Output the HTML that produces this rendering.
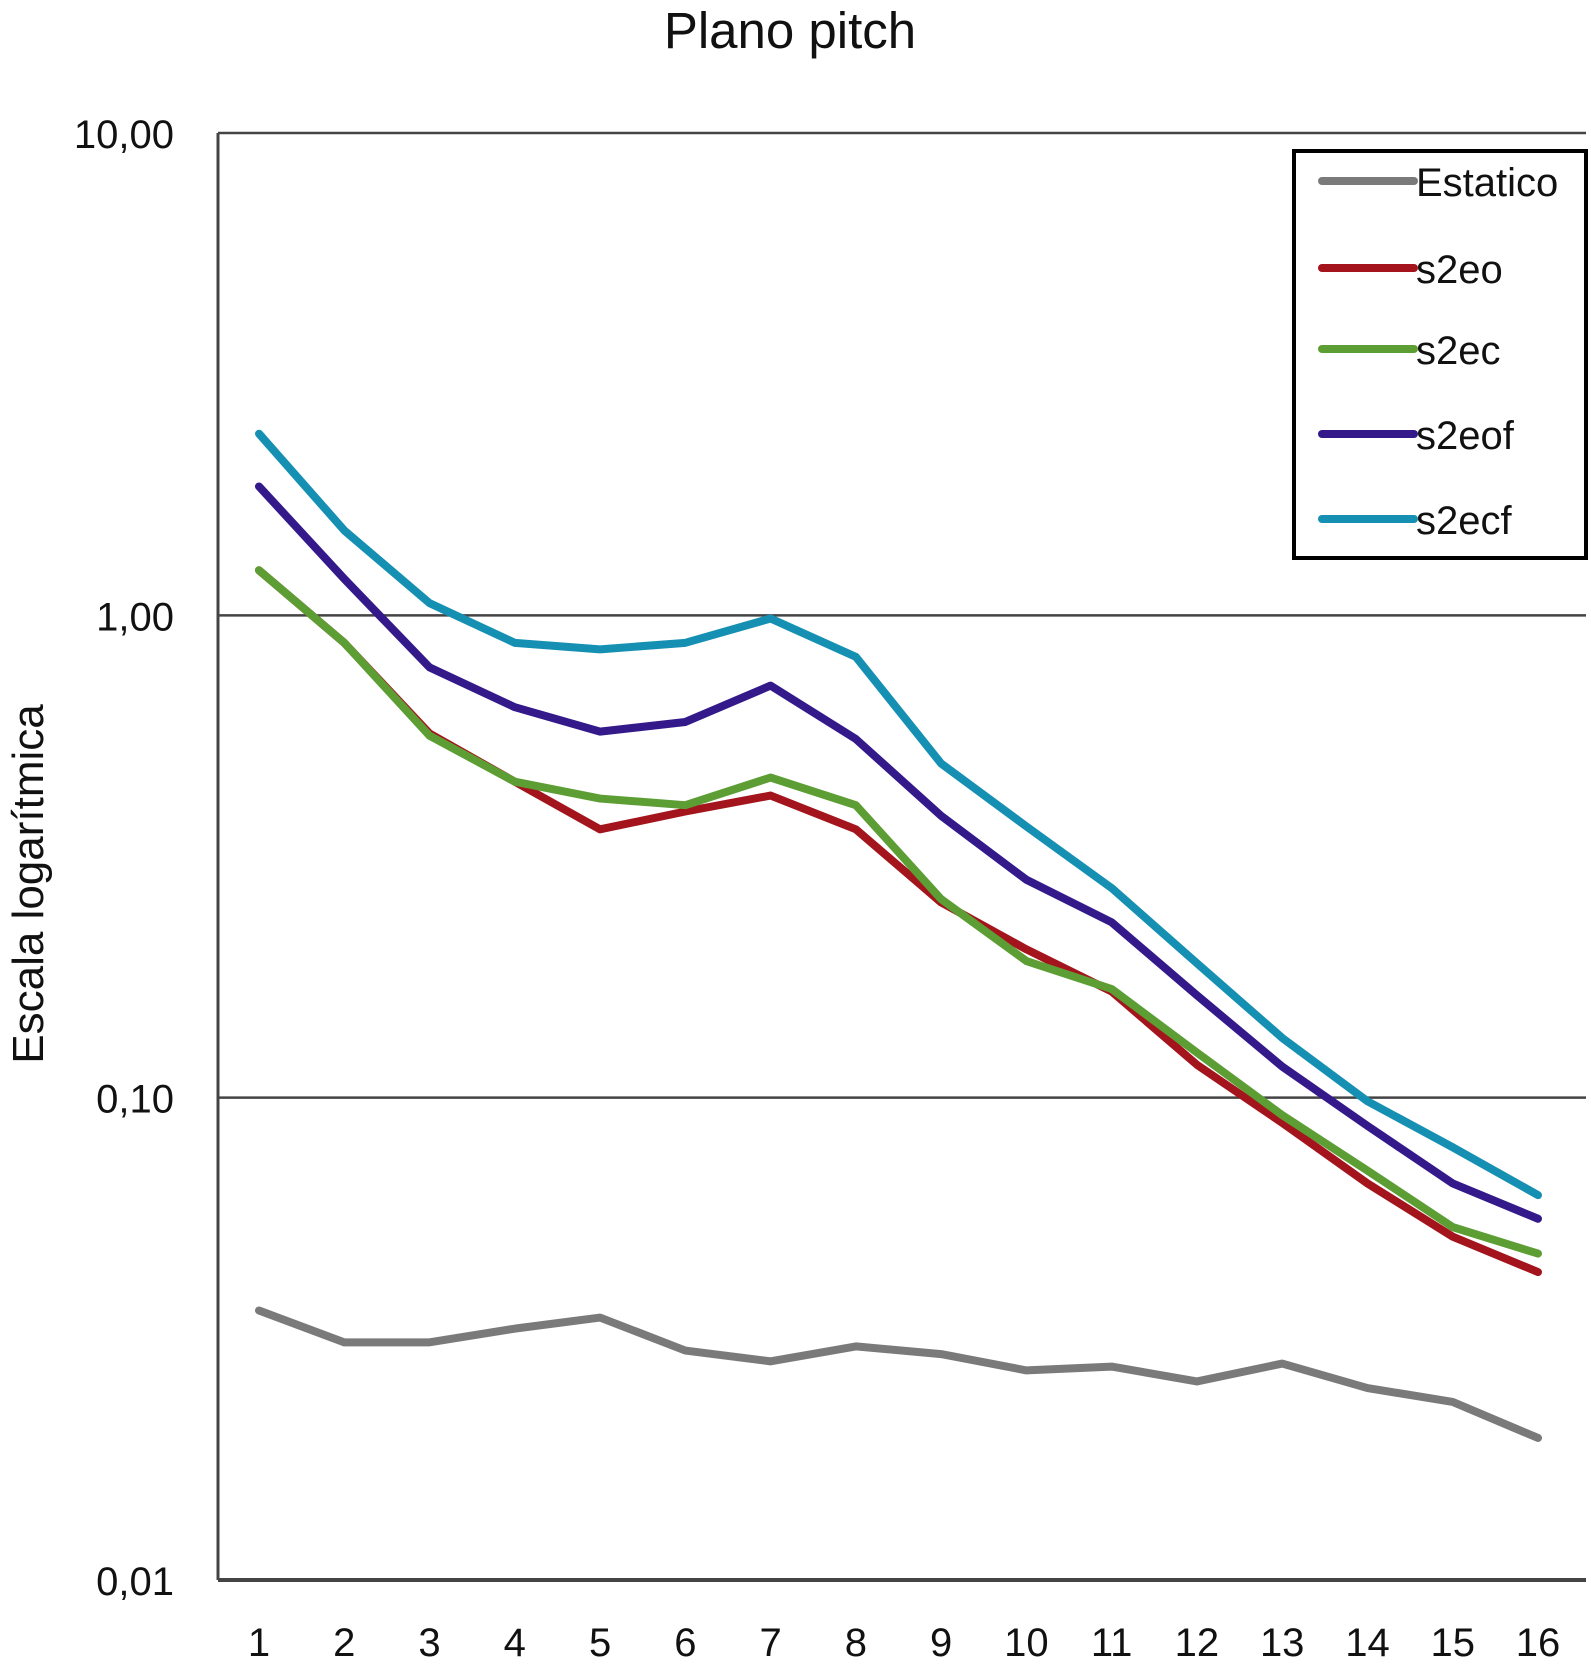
<!DOCTYPE html>
<html><head><meta charset="utf-8"><style>
html,body{margin:0;padding:0;background:#fff;}
svg{display:block;font-family:"Liberation Sans",Arial,sans-serif;}
</style></head><body>
<svg id="chart" width="1591" height="1676" viewBox="0 0 1591 1676">
<text x="790" y="48" font-size="51" text-anchor="middle" fill="#111">Plano pitch</text>
<text transform="translate(43,884) rotate(-90)" font-size="44" text-anchor="middle" fill="#111">Escala logarítmica</text>
<g id="grid"></g>
<g id="series"></g>
<g id="legend">
<rect x="1294" y="151" width="292" height="407" fill="#fff" stroke="#000" stroke-width="4"/>
</g>
</svg>
<script>
const categories=[1,2,3,4,5,6,7,8,9,10,11,12,13,14,15,16];
const yTicks=[10,1,0.1,0.01];
const yTickLabels=["10,00","1,00","0,10","0,01"];
const seriesNames=["Estatico","s2eo","s2ec","s2eof","s2ecf"];
const estatico=[0.0362,0.0311,0.0311,0.0332,0.0350,0.0299,0.0284,0.0305,0.0294,0.0272,0.0277,0.0258,0.0281,0.0250,0.0234,0.0197];
const s2eo=[1.24,0.877,0.569,0.452,0.360,0.392,0.423,0.360,0.254,0.203,0.166,0.117,0.0887,0.0664,0.0515,0.0435];
const s2ec=[1.24,0.877,0.563,0.452,0.417,0.404,0.461,0.404,0.258,0.192,0.168,0.124,0.092,0.0706,0.0539,0.0475];
const s2eof=[1.85,1.19,0.780,0.645,0.574,0.601,0.715,0.554,0.384,0.283,0.231,0.163,0.116,0.0874,0.0664,0.0561];
const s2ecf=[2.38,1.50,1.06,0.877,0.850,0.877,0.985,0.820,0.493,0.365,0.272,0.190,0.133,0.0983,0.0789,0.0628];
const ns="http://www.w3.org/2000/svg";
const L=218,R=1586,T=133,B=1580;
const x=i=>259+i*(1538-259)/15;
const y=v=>B-(Math.log10(v)+2)*(B-T)/3;
const grid=document.getElementById('grid');
function mk(tag,attrs,parent){const e=document.createElementNS(ns,tag);for(const k in attrs)e.setAttribute(k,attrs[k]);parent.appendChild(e);return e;}
yTicks.forEach((t,i)=>{
  const ln=mk('line',{x1:L,x2:R,y1:y(t),y2:y(t),stroke:'#444','stroke-width':i==3?4:2.5},grid);
  
  
  const tx=mk('text',{x:174,y:y(t)+15,'font-size':40,'text-anchor':'end',fill:'#111'},grid);
  tx.textContent=yTickLabels[i];
  
  
});
const ax=mk('line',{x1:L,x2:L,y1:T,y2:B,stroke:'#444','stroke-width':3},grid);


categories.forEach((c,i)=>{
  const tx=mk('text',{x:x(i),y:1656,'font-size':40,'text-anchor':'middle',fill:'#111'},grid);
  tx.textContent=c;
  
  
});
const colors=["#7a7a7a","#a3141c","#5d9e34","#33198a","#1590b3"];
const data=[estatico,s2eo,s2ec,s2eof,s2ecf];
const sg=document.getElementById('series');
data.forEach((d,si)=>{
  const p=mk('polyline',{points:d.map((v,i)=>x(i)+','+y(v)).join(' '),fill:'none',stroke:colors[si],'stroke-width':8,'stroke-linejoin':'round','stroke-linecap':'round'},sg);
  
  
});
const lg=document.getElementById('legend');
const ly=[181,268,349,434,519];
seriesNames.forEach((n,i)=>{
  const l=mk('line',{x1:1322,x2:1414,y1:ly[i],y2:ly[i],stroke:colors[i],'stroke-width':8,'stroke-linecap':'round'},lg);
  
  
  const t=mk('text',{x:1416,y:ly[i]+15,'font-size':40,fill:'#111'},lg);
  t.textContent=n;
  
  
});
</script>
</body></html>
